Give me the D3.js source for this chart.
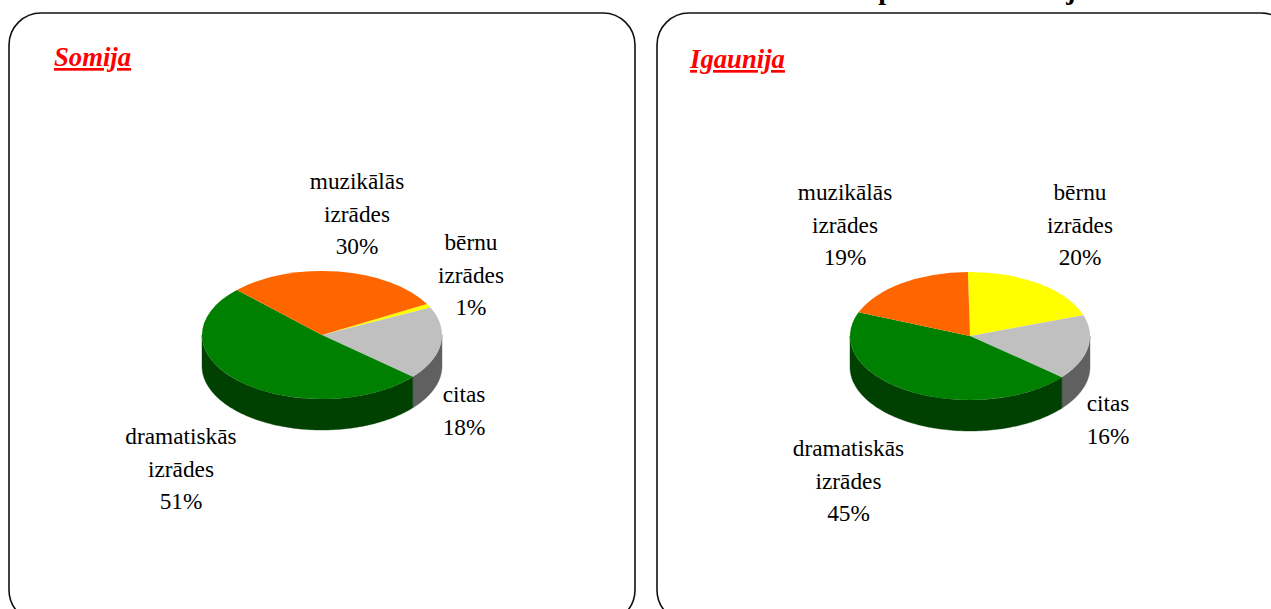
<!DOCTYPE html>
<html><head><meta charset="utf-8">
<script src="https://cdn.jsdelivr.net/npm/d3@7"></script>
<style>html,body{margin:0;padding:0;background:#fff;overflow:hidden}svg{display:block}</style>
</head><body><svg id="c" width="1271" height="609"></svg>
<script>
const categories = ["bērnu izrādes", "citas", "dramatiskās izrādes", "muzikālās izrādes"];
const somijaValues = [1, 18.4, 51.1, 29.5];
const igaunijaValues = [20, 16.4, 44.9, 18.7];
const panelTitles = ["Somija", "Igaunija"];

const topColors = ["#FFFF00", "#C0C0C0", "#008000", "#FF6600"];
const wallColors = ["#808000", "#606060", "#004000", "#803300"];

const layouts = [
  {panel:[9,13,626,609], titleX:54, titleY:66, cx:322, cy:335, start:61,
   labels:[[471,250],[464,402],[181,444],[357,189]]},
  {panel:[657,13,636,609], titleX:690, titleY:68, cx:970, cy:336, start:-1,
   labels:[[1080,200],[1108,411],[848.5,456],[845,200]]}
];
const rx = 120, ry = 64, depth = 31, lineH = 32.6;
const rad = d => d * Math.PI / 180;
const pct = d3.format(".0f");
const svg = d3.select("#c");

[["p",886],["j",1071]].forEach(([ch,x]) => {
  svg.append("text").attr("x",x).attr("y",-1).attr("text-anchor","middle")
    .attr("font-family","Liberation Serif").attr("font-weight","bold").attr("font-size",28).text(ch);
});

[somijaValues, igaunijaValues].forEach((values, p) => {
  const L = layouts[p];
  svg.append("rect").attr("x",L.panel[0]).attr("y",L.panel[1]).attr("width",L.panel[2]).attr("height",L.panel[3])
    .attr("rx",32).attr("ry",32).attr("fill","none").attr("stroke","#111").attr("stroke-width",1.6);
  svg.append("text").attr("x",L.titleX).attr("y",L.titleY)
    .attr("font-family","Liberation Serif").attr("font-size",26.7).attr("font-weight","bold").attr("font-style","italic")
    .attr("text-decoration","underline").attr("fill","#FF0000").text(panelTitles[p]);

  const pie = d3.pie().sort(null).startAngle(rad(L.start)).endAngle(rad(L.start+360));
  const arcs = pie(values);
  const g = svg.append("g");

  const wall = d3.area()
    .x(a => L.cx + rx*Math.sin(a))
    .y0(a => L.cy - ry*Math.cos(a))
    .y1(a => L.cy - ry*Math.cos(a) + depth);
  arcs.forEach((s,i) => {
    [0, 2*Math.PI].forEach(shift => {
      const a0 = Math.max(s.startAngle+shift, Math.PI/2), a1 = Math.min(s.endAngle+shift, 3*Math.PI/2);
      if (a1 <= a0) return;
      const pts = d3.range(a0, a1, 0.02).concat([a1]);
      g.append("path").attr("d", wall(pts)).attr("fill", wallColors[i]).attr("stroke", wallColors[i]).attr("stroke-width",0.4);
    });
  });

  const arc = d3.arc().innerRadius(0).outerRadius(rx);
  const top = g.append("g").attr("transform",`translate(${L.cx},${L.cy}) scale(1,${ry/rx})`);
  top.selectAll("path").data(arcs).join("path").attr("d",arc).attr("fill",(d,i)=>topColors[i]);

  arcs.forEach((s,i) => {
    const words = categories[i].split(" ").concat([`${i === 3 && p === 0 ? 30 : pct(values[i])}%`]);
    const t = svg.append("text").attr("text-anchor","middle")
      .attr("font-family","Liberation Serif").attr("font-size",23.3).attr("fill","#000");
    words.forEach((w,k) => t.append("tspan").attr("x",L.labels[i][0]).attr("y",L.labels[i][1]+k*lineH).text(w));
  });
});
</script></body></html>
